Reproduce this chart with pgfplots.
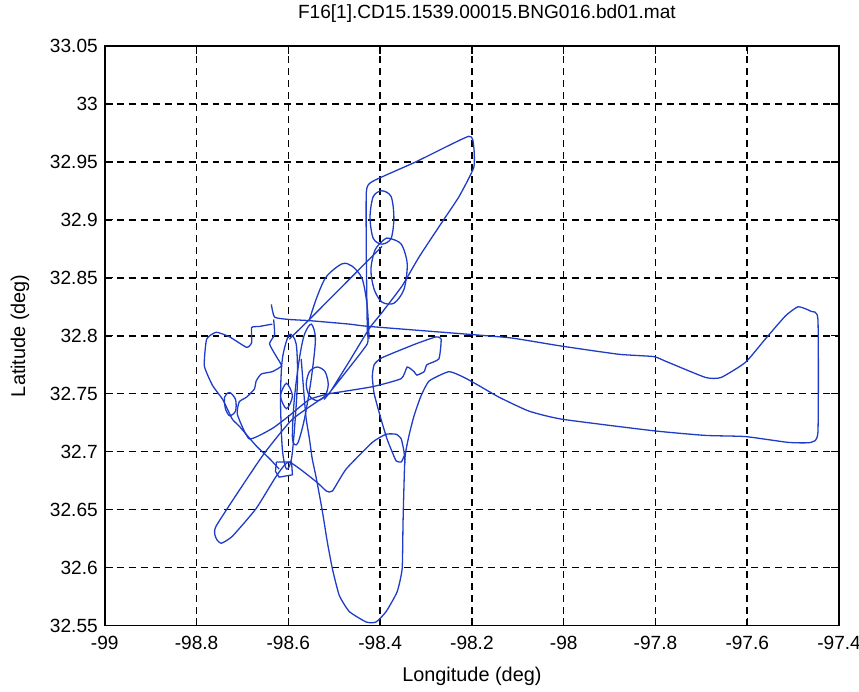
\documentclass[border=0pt]{standalone}
\usepackage{fontspec}
\setmainfont{Liberation Sans}
\usepackage{pgfplots}
\pgfplotsset{compat=1.18}
\definecolor{trajblue}{RGB}{30,60,200}

\begin{document}
\begin{tikzpicture}
\useasboundingbox (-52.5bp,-33bp) rectangle (378bp,313.5bp);
\begin{axis}[
    at={(0,0)}, anchor=south west,
    width=368bp, height=290.5bp, scale only axis,
    xmin=-99, xmax=-97.4, ymin=32.55, ymax=33.05,
    xtick={-99,-98.8,-98.6,-98.4,-98.2,-98,-97.8,-97.6,-97.4},
    ytick={32.55,32.6,32.65,32.7,32.75,32.8,32.85,32.9,32.95,33,33.05},
    /pgf/number format/assume math mode=true,
    /pgf/number format/precision=2,
    grid=major,
    major grid style={black, dash pattern=on 3.5bp off 2.5bp, line width=0.8bp},
    axis line style={black, line width=0.8bp},
    tick style={black, line width=0.7bp},
    major tick length=4bp, tick align=inside,
    tick label style={font=\fontsize{9.6}{12}\selectfont},
    xticklabel style={yshift=-2bp},
    xlabel={Longitude (deg)}, ylabel={Latitude (deg)},
    label style={font=\fontsize{10}{12}\selectfont},
    xlabel style={at={(axis description cs:0.5,0)}, anchor=center, yshift=-25.5bp},
    ylabel style={at={(axis description cs:0,0.5)}, anchor=center, yshift=42.5bp},
    title={F16[1].CD15.1539.00015.BNG016.bd01.mat},
    title style={font=\fontsize{9.6}{12}\selectfont, at={(axis description cs:0.5,1)}, anchor=center, yshift=10bp, xshift=7.5bp},
    traj/.style={color=trajblue, line width=0.65bp, mark=none},
]
% east leg and southern U
\addplot[traj, smooth, tension=0.3] coordinates {
(-98.637,32.827) (-98.630,32.816) (-98.598,32.814) (-98.554,32.813) (-98.467,32.810)
(-98.424,32.808) (-98.200,32.801) (-98.113,32.798) (-98.004,32.791) (-97.880,32.784)
(-97.804,32.782) (-97.778,32.778) (-97.691,32.764) (-97.657,32.764) (-97.604,32.777)
(-97.561,32.797) (-97.517,32.817) (-97.489,32.825) (-97.461,32.821) (-97.446,32.814)
(-97.446,32.717) (-97.461,32.708) (-97.511,32.708) (-97.604,32.713) (-97.691,32.714)
(-97.804,32.718) (-98.004,32.728) (-98.076,32.735) (-98.141,32.747) (-98.185,32.757)
(-98.217,32.764) (-98.250,32.769) (-98.293,32.761) (-98.311,32.748) (-98.326,32.731)
(-98.337,32.714) (-98.346,32.694) (-98.350,32.640) (-98.352,32.599) (-98.363,32.579)
(-98.387,32.562) (-98.409,32.553) (-98.430,32.553) (-98.467,32.562) (-98.489,32.576)
(-98.504,32.599) (-98.515,32.622) (-98.526,32.649) (-98.539,32.677) (-98.548,32.694)
(-98.554,32.711) (-98.561,32.728) (-98.565,32.745) (-98.572,32.780)
};
% north-east loop
\addplot[traj, smooth, tension=0.3] coordinates {
(-98.511,32.750) (-98.467,32.778) (-98.424,32.806) (-98.396,32.820) (-98.352,32.843)
(-98.315,32.868) (-98.265,32.898) (-98.228,32.920) (-98.196,32.945) (-98.196,32.963)
(-98.207,32.972) (-98.322,32.950) (-98.417,32.933) (-98.430,32.924) (-98.430,32.866)
(-98.428,32.806) (-98.428,32.793) (-98.478,32.767) (-98.522,32.745)
};
% two ovals
\addplot[traj, smooth cycle] coordinates {
(-98.396,32.925) (-98.376,32.920) (-98.370,32.902) (-98.376,32.884)
(-98.396,32.879) (-98.415,32.884) (-98.422,32.902) (-98.415,32.920)
};
\addplot[traj, smooth cycle] coordinates {
(-98.380,32.884) (-98.354,32.879) (-98.341,32.862) (-98.348,32.840) (-98.370,32.828)
(-98.396,32.829) (-98.413,32.840) (-98.420,32.857) (-98.411,32.874) (-98.391,32.883)
};
% diagonal and arch
\addplot[traj] coordinates {(-98.598,32.797) (-98.554,32.814) (-98.396,32.877)};
\addplot[traj, smooth] coordinates {
(-98.554,32.814) (-98.537,32.834) (-98.517,32.851) (-98.483,32.862) (-98.461,32.860)
(-98.439,32.849) (-98.428,32.825) (-98.424,32.797)
};
% west loop
\addplot[traj, smooth, tension=0.3] coordinates {
(-98.635,32.810) (-98.663,32.808) (-98.680,32.807) (-98.680,32.794) (-98.691,32.790)
(-98.728,32.799) (-98.757,32.803) (-98.778,32.797) (-98.783,32.774) (-98.765,32.757)
(-98.743,32.745) (-98.722,32.728) (-98.707,32.722) (-98.670,32.705) (-98.641,32.694)
(-98.620,32.685)
};
\addplot[traj, smooth cycle] coordinates {
(-98.728,32.751) (-98.715,32.745) (-98.715,32.735) (-98.728,32.731) (-98.737,32.737) (-98.739,32.747)
};
\addplot[traj, smooth, tension=0.3] coordinates {
(-98.632,32.814) (-98.630,32.801) (-98.641,32.793) (-98.626,32.782) (-98.615,32.774)
(-98.635,32.769) (-98.659,32.767) (-98.670,32.761) (-98.674,32.754) (-98.691,32.747)
(-98.707,32.743) (-98.711,32.732) (-98.685,32.711) (-98.635,32.720) (-98.598,32.731)
(-98.554,32.745) (-98.511,32.750)
};
% south-west finger and hump
\addplot[traj, smooth, tension=0.3] coordinates {
(-98.511,32.750) (-98.591,32.728) (-98.657,32.696) (-98.757,32.636) (-98.757,32.625)
(-98.746,32.621) (-98.722,32.627) (-98.670,32.651) (-98.626,32.679) (-98.598,32.691)
(-98.539,32.674) (-98.517,32.666) (-98.504,32.666) (-98.474,32.685) (-98.417,32.708)
(-98.387,32.715) (-98.365,32.715) (-98.354,32.711) (-98.348,32.700) (-98.346,32.690)
};
% eastern spoke loop
\addplot[traj, smooth, tension=0.3] coordinates {
(-98.511,32.750) (-98.417,32.756) (-98.354,32.763) (-98.341,32.773) (-98.326,32.769)
(-98.320,32.766) (-98.304,32.769) (-98.298,32.775) (-98.272,32.780) (-98.267,32.797)
(-98.278,32.799) (-98.322,32.793) (-98.396,32.781) (-98.413,32.775) (-98.417,32.765)
(-98.413,32.750) (-98.398,32.728) (-98.385,32.711) (-98.374,32.700) (-98.365,32.692)
(-98.354,32.691) (-98.348,32.696)
};
% central cluster
\addplot[traj, smooth cycle] coordinates {
(-98.598,32.801) (-98.583,32.793) (-98.580,32.763) (-98.585,32.728) (-98.593,32.694)
(-98.604,32.685) (-98.613,32.702) (-98.617,32.745) (-98.613,32.780)
};
\addplot[traj, smooth cycle] coordinates {
(-98.550,32.810) (-98.541,32.797) (-98.550,32.763) (-98.565,32.728) (-98.580,32.707)
(-98.591,32.711) (-98.587,32.745) (-98.576,32.780) (-98.565,32.801)
};
\addplot[traj, smooth cycle] coordinates {
(-98.537,32.773) (-98.520,32.769) (-98.513,32.758) (-98.520,32.748)
(-98.537,32.744) (-98.554,32.748) (-98.561,32.758) (-98.554,32.769)
};
\addplot[traj, smooth cycle] coordinates {
(-98.604,32.759) (-98.591,32.748) (-98.604,32.737) (-98.617,32.748)
};
\addplot[traj] coordinates {
(-98.626,32.691) (-98.593,32.691) (-98.591,32.680) (-98.620,32.678) (-98.628,32.683) (-98.626,32.691)
};
\end{axis}
\end{tikzpicture}
\end{document}
